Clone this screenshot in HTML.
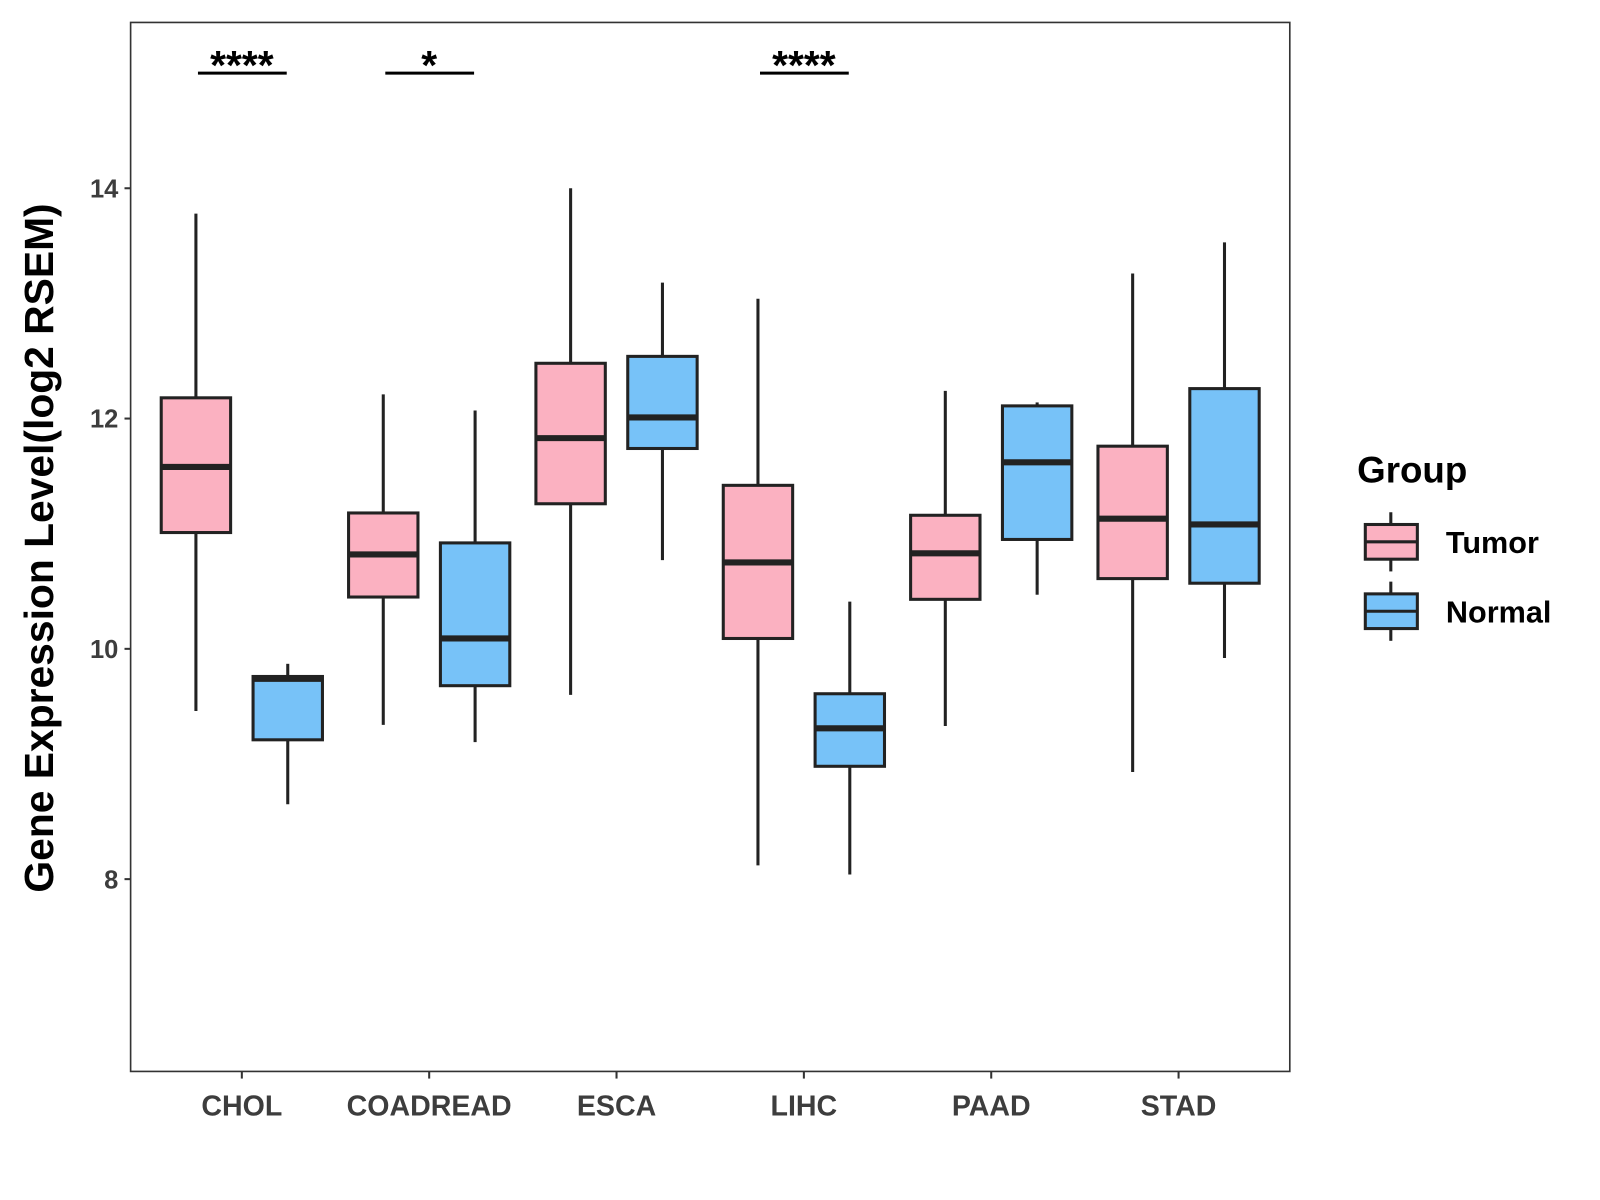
<!DOCTYPE html>
<html><head><meta charset="utf-8"><style>
html,body{margin:0;padding:0;background:#fff;}
svg{display:block;font-family:"Liberation Sans",Arial,sans-serif;}
</style></head><body>
<svg id="chart" width="1600" height="1200" viewBox="0 0 1568 1176" xmlns="http://www.w3.org/2000/svg">
<rect x="0" y="0" width="1568" height="1176" fill="#fff"/>
<g id="marks"></g>
<rect x="128" y="22" width="1136" height="1028" fill="none" stroke="#333" stroke-width="1.6"/>
<text transform="translate(52,537) rotate(-90)" text-anchor="middle" font-size="40" font-weight="bold" fill="#000">Gene Expression Level(log2 RSEM)</text>
<g>
<text x="1330" y="473" font-size="36" font-weight="bold">Group</text>
<g>
<line x1="1363" y1="502" x2="1363" y2="560" stroke="#222" stroke-width="3"/>
<rect x="1338" y="514" width="51" height="34" fill="#FBB1C1" stroke="#222" stroke-width="3"/>
<line x1="1338" y1="531" x2="1389" y2="531" stroke="#222" stroke-width="3"/>
<text x="1417" y="542" font-size="30" font-weight="bold">Tumor</text>
</g>
<g>
<line x1="1363" y1="570" x2="1363" y2="628" stroke="#222" stroke-width="3"/>
<rect x="1338" y="582" width="51" height="34" fill="#77C2F8" stroke="#222" stroke-width="3"/>
<line x1="1338" y1="599" x2="1389" y2="599" stroke="#222" stroke-width="3"/>
<text x="1417" y="610" font-size="30" font-weight="bold">Normal</text>
</g>
</g>
</svg>
<script>
const categories = ["CHOL","COADREAD","ESCA","LIHC","PAAD","STAD"];
// [min, q1, median, q3, max]
const tumorStats = [[9.46,11.01,11.58,12.18,13.78],[9.34,10.45,10.82,11.18,12.21],[9.60,11.26,11.83,12.48,14.0],[8.12,10.09,10.75,11.42,13.04],[9.33,10.43,10.83,11.16,12.24],[8.93,10.61,11.13,11.76,13.26]];
const normalStats = [[8.65,9.21,9.74,9.76,9.87],[9.19,9.68,10.09,10.92,12.07],[10.77,11.74,12.01,12.54,13.18],[8.04,8.98,9.31,9.61,10.41],[10.47,10.95,11.62,12.11,12.14],[9.92,10.57,11.08,12.26,13.53]];
const yTicks = [8,10,12,14];
const sigCats = ["CHOL","COADREAD","LIHC"];
const sigLabels = ["****","*","****"];
const sigLevel = 15;

const NS="http://www.w3.org/2000/svg";
const g=document.getElementById('marks');
const yMin=6.33,yMax=15.44,plotTop=22,plotBot=1050;
function y(v){return plotBot-(v-yMin)/(yMax-yMin)*(plotBot-plotTop);}
function x(i){return 237+i*183.6;}
function el(t,a,p){const e=document.createElementNS(NS,t);for(const k in a)e.setAttribute(k,a[k]);(p||g).appendChild(e);return e;}

yTicks.forEach(t=>{
  const l=el('line',{x1:122,x2:128,y1:y(t),y2:y(t),stroke:'#333','stroke-width':2});
  
  
  const tx=el('text',{x:116,y:y(t)+9,'text-anchor':'end','font-size':25,'font-weight':'bold',fill:'#3d3d3d'});
  tx.textContent=t;
  
  
});
categories.forEach((c,i)=>{
  const l=el('line',{x1:x(i),x2:x(i),y1:1050,y2:1057,stroke:'#333','stroke-width':2});
  
  
  const tx=el('text',{x:x(i),y:1093,'text-anchor':'middle','font-size':28,'font-weight':'bold',fill:'#3d3d3d'});
  tx.textContent=c;
  
  
});
function box(s,cx,fill,name){
  const gg=el('g',{});
  
  
  const w=34;
  el('line',{x1:cx,x2:cx,y1:y(s[0]),y2:y(s[1]),stroke:'#222','stroke-width':3},gg);
  el('line',{x1:cx,x2:cx,y1:y(s[3]),y2:y(s[4]),stroke:'#222','stroke-width':3},gg);
  el('rect',{x:cx-w,y:y(s[3]),width:2*w,height:y(s[1])-y(s[3]),fill:fill,stroke:'#222','stroke-width':3},gg);
  el('line',{x1:cx-w,x2:cx+w,y1:y(s[2]),y2:y(s[2]),stroke:'#222','stroke-width':6},gg);
}
categories.forEach((c,i)=>{
  box(tumorStats[i],x(i)-45,'#FBB1C1','box-tumor-'+c.toLowerCase());
  box(normalStats[i],x(i)+45,'#77C2F8','box-normal-'+c.toLowerCase());
});
sigCats.forEach((c,k)=>{
  const i=categories.indexOf(c);
  const l=el('line',{x1:x(i)-43,x2:x(i)+44,y1:y(sigLevel),y2:y(sigLevel),stroke:'#000','stroke-width':3});
  
  
  const tx=el('text',{x:x(i),y:y(sigLevel)+6,'text-anchor':'middle','font-size':40,'font-weight':'bold',fill:'#000'});
  tx.textContent=sigLabels[k];
  
  
});
</script>
</body></html>
